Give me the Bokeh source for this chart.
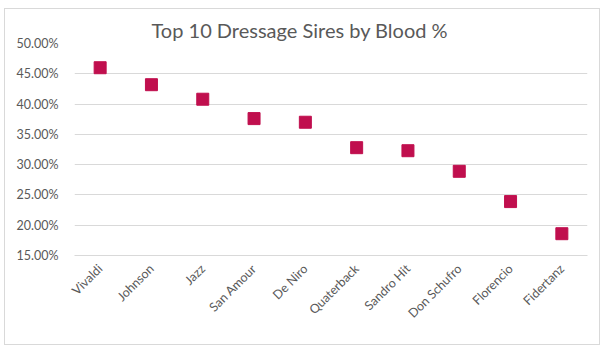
import math
from bokeh.plotting import figure
from bokeh.models import NumeralTickFormatter, FixedTicker
from bokeh.embed import file_html
from bokeh.resources import INLINE

sires = ["Vivaldi", "Johnson", "Jazz", "San Amour", "De Niro", "Quaterback",
         "Sandro Hit", "Don Schufro", "Florencio", "Fidertanz"]
blood = [0.460, 0.432, 0.408, 0.376, 0.370, 0.328, 0.323, 0.289, 0.239, 0.186]
y_ticks = [0.15, 0.20, 0.25, 0.30, 0.35, 0.40, 0.45, 0.50]

FONT = "Lato"
GRAY = "#595959"

p = figure(x_range=sires, y_range=(0.15, 0.50), width=596, height=337,
           output_backend="svg", toolbar_location=None,
           title="Top 10 Dressage Sires by Blood %",
           min_border_left=69, min_border_right=14, min_border_top=34,
           min_border_bottom=91, margin=(8, 0, 0, 4))
p.styles = {"border": "1px solid #d9d9d9", "box-sizing": "border-box"}
p.outline_line_color = None
p.title.align = "left"
p.title.offset = 77
p.title.standoff = 4
p.title.text_font = FONT
p.title.text_font_size = "20px"
p.title.text_font_style = "normal"
p.title.text_color = GRAY

p.scatter(x=sires, y=blood, marker="square", size=12, color="#C00F4E")

p.yaxis.ticker = FixedTicker(ticks=y_ticks)
p.yaxis.formatter = NumeralTickFormatter(format="0.00%")
p.yaxis.axis_line_color = None
p.yaxis.major_tick_line_color = None
p.yaxis.minor_tick_line_color = None
p.yaxis.major_label_standoff = 10
p.xaxis.axis_line_color = "#d9d9d9"
p.xaxis.major_tick_line_color = None
p.xaxis.major_label_orientation = math.pi / 4
for ax in (p.xaxis, p.yaxis):
    ax.major_label_text_font = FONT
    ax.major_label_text_font_size = "12.5px"
    ax.major_label_text_color = GRAY
p.xgrid.grid_line_color = None
p.ygrid.grid_line_color = "#d9d9d9"
p.ygrid.ticker = FixedTicker(ticks=y_ticks)
p.background_fill_color = "white"
p.border_fill_color = "white"

open("out.html", "w").write(file_html(p, INLINE))
